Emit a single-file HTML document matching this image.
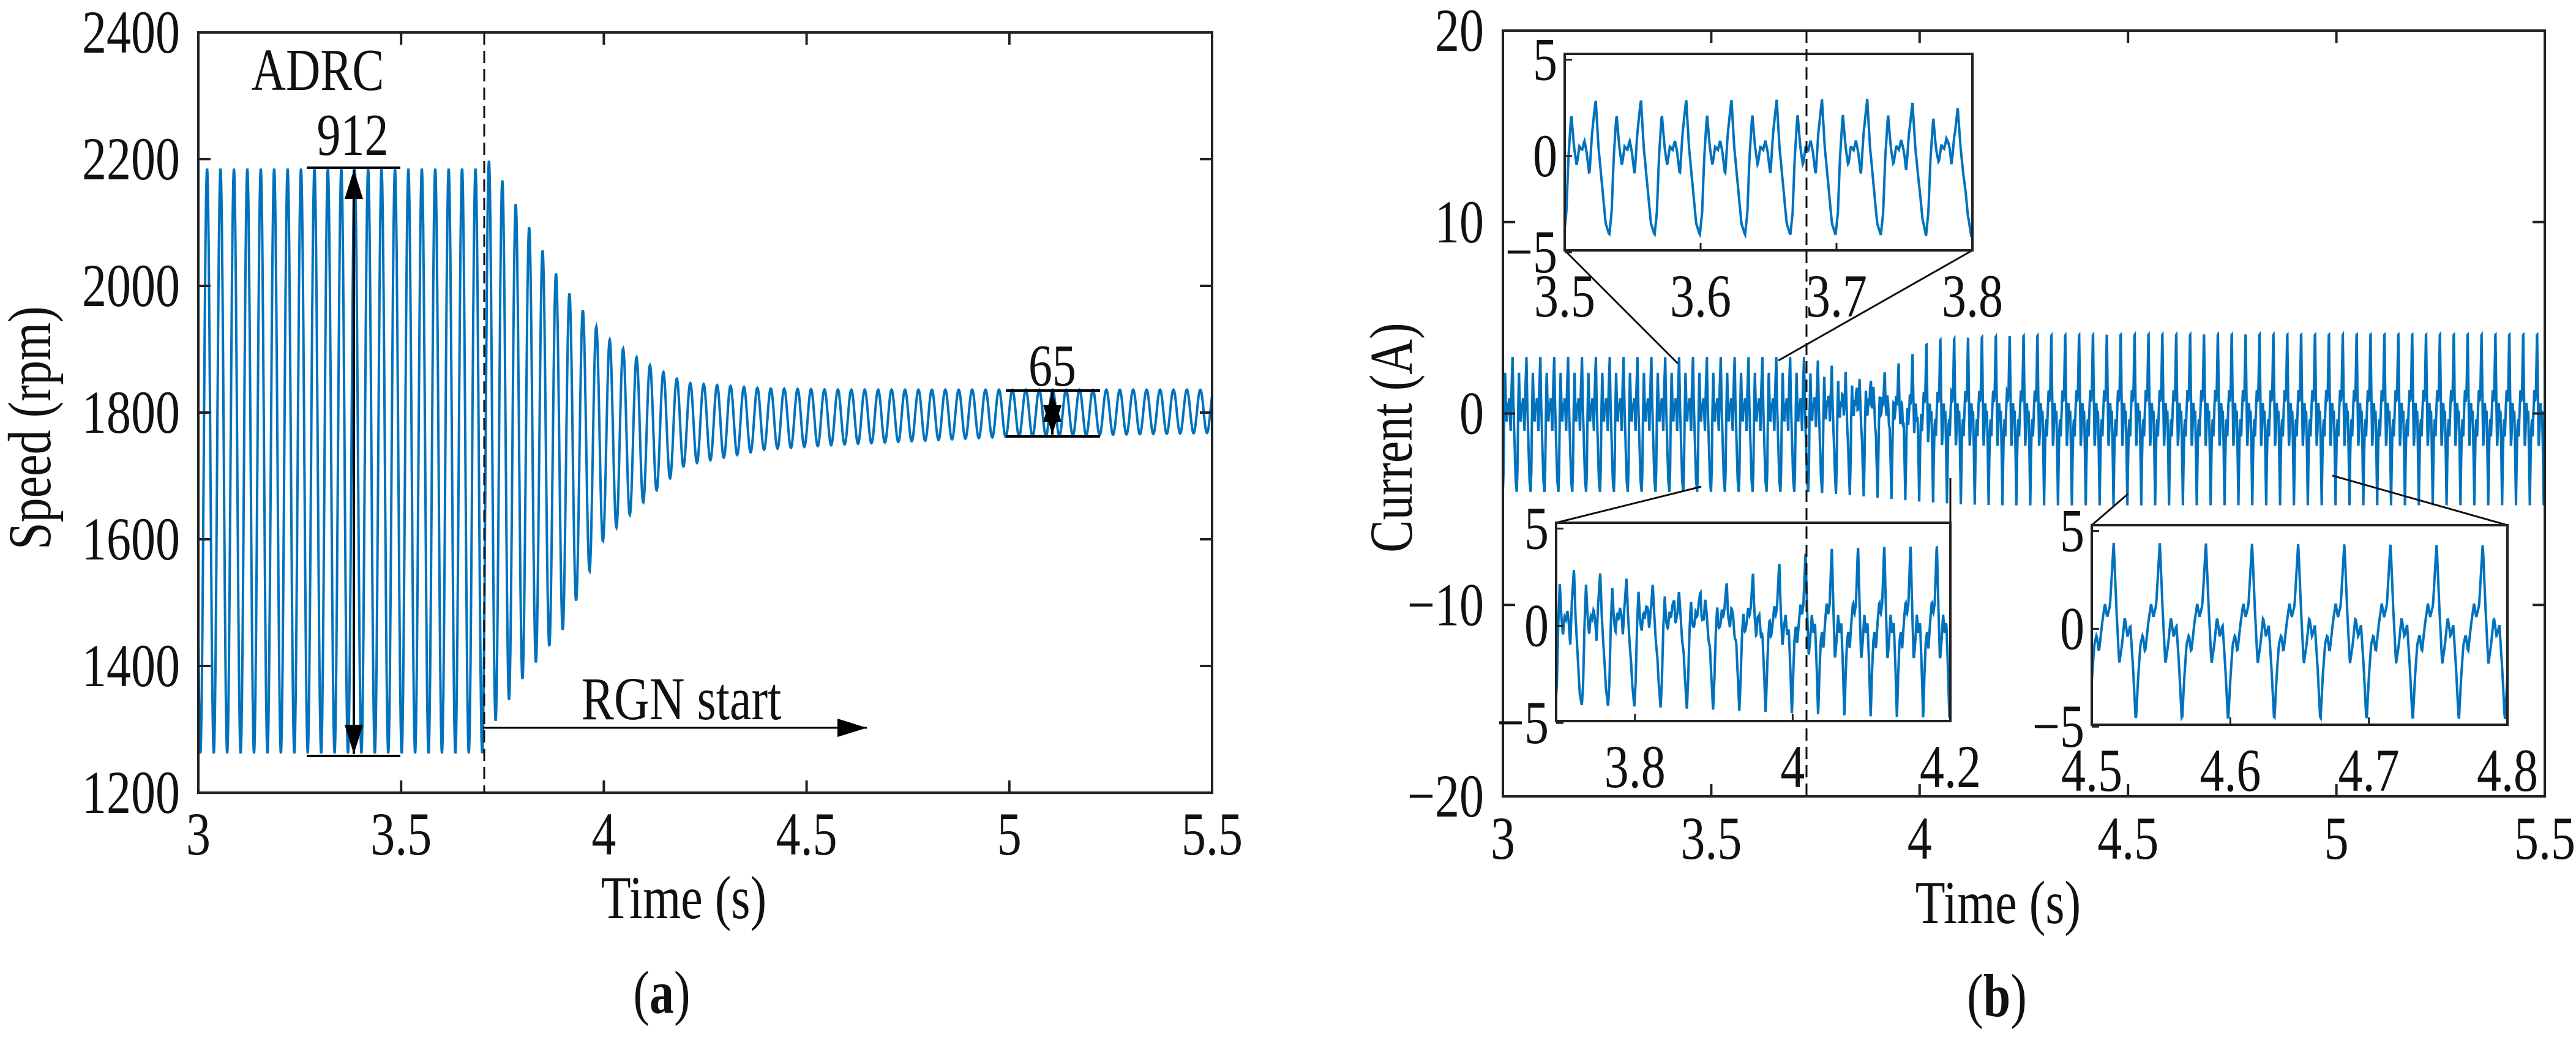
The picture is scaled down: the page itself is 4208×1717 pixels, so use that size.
<!DOCTYPE html>
<html><head><meta charset="utf-8">
<style>
html,body{margin:0;padding:0;background:#fff;}
svg{display:block;font-family:"Liberation Serif",serif;}
text{fill:#111;}
</style></head>
<body>
<svg id="fig" width="4208" height="1717" viewBox="0 0 4208 1717" xmlns="http://www.w3.org/2000/svg">
<defs>
<clipPath id="clipA"><rect x="324" y="53" width="1656" height="1242"/></clipPath>
<clipPath id="clipB"><rect x="2455" y="50" width="1702" height="1251"/></clipPath>
<clipPath id="clipI1"><rect x="2556" y="88" width="666" height="321"/></clipPath>
<clipPath id="clipI2"><rect x="2542" y="854" width="644" height="324"/></clipPath>
<clipPath id="clipI3"><rect x="3417" y="858" width="679" height="326"/></clipPath>
<marker id="arr" viewBox="0 0 16 10" refX="16" refY="5" markerWidth="48" markerHeight="30" markerUnits="userSpaceOnUse" orient="auto-start-reverse"><path d="M0,0 L16,5 L0,10 z" fill="#000"/></marker>
</defs>
<g id="panelA"></g>
<g id="panelB"></g>
</svg>
<script>
// ---- data: speed chart ----
const speedXTicks = [3, 3.5, 4, 4.5, 5, 5.5];
const speedXTickLabels = ["3", "3.5", "4", "4.5", "5", "5.5"];
const speedYTicks = [1200, 1400, 1600, 1800, 2000, 2200, 2400];
const speedYTickLabels = ["1200", "1400", "1600", "1800", "2000", "2200", "2400"];
const speedEnvTimes = [3.0, 3.70, 3.72, 3.8, 3.9, 4.0, 4.1, 4.2, 4.4, 4.6, 5.0, 5.5];
const speedUpper = [2185, 2185, 2200, 2110, 2000, 1921, 1879, 1847, 1838, 1836, 1836, 1836];
const speedLower = [1262, 1262, 1300, 1380, 1458, 1600, 1660, 1717, 1742, 1750, 1762, 1768];
const speedPeriod = [0.0331];
const rgnStart = [3.705];
// ---- data: current chart ----
const curXTicks = [3, 3.5, 4, 4.5, 5, 5.5];
const curXTickLabels = ["3", "3.5", "4", "4.5", "5", "5.5"];
const curYTicks = [-20, -10, 0, 10, 20];
const curYTickLabels = ["\u221220", "\u221210", "0", "10", "20"];
const curEnvTimes = [3.0, 3.73, 3.8, 3.9, 4.0, 4.1, 4.2, 4.3, 4.5, 5.0, 5.5];
const curUpper = [2.95, 2.95, 3.3, 3.7, 4.0, 4.2, 4.3, 4.35, 4.4, 4.4, 4.4];
const curLower = [-4.1, -4.1, -4.2, -4.4, -4.6, -4.75, -4.8, -4.8, -4.8, -4.8, -4.8];
const shapeBeforePhase = [0, 0.05, 0.1, 0.16, 0.22, 0.28, 0.34, 0.4, 0.45, 0.5, 0.56, 0.62, 0.7, 0.76, 0.84, 0.92, 1];
const shapeBeforeVal = [-4.1, -3, 0, 2.2, 0.5, -0.5, 0.5, 0.3, 0.8, 0.2, -1, 1.2, 2.95, 0.5, -1.5, -3.5, -4.1];
const shapeAfterPhase = [0, 0.05, 0.1, 0.15, 0.2, 0.27, 0.33, 0.38, 0.44, 0.52, 0.58, 0.64, 0.7, 0.76, 0.82, 0.88, 0.94, 1];
const shapeAfterVal = [-4.8, -2.5, -0.8, -0.3, -1.2, 0.3, 1.3, 0.6, 1.2, 4.4, 1.0, -1.8, -0.8, 0.6, -0.4, 0.2, -2, -4.8];
const curPeriod = [0.0333];
const inset1XTicks = [3.5, 3.6, 3.7, 3.8];
const inset2XTicks = [3.8, 4.0, 4.2];
const inset2XTickLabels = ["3.8", "4", "4.2"];
const inset3XTicks = [4.5, 4.6, 4.7, 4.8];
const insetYTicks = [-5, 0, 5];
const insetYTickLabels = ["\u22125", "0", "5"];

const NS = "http://www.w3.org/2000/svg";
const SY = 1.25;
function mk(parent, tag, attrs, txt){
  const e = document.createElementNS(NS, tag);
  for (const k in attrs) e.setAttribute(k, attrs[k]);
  if (txt !== undefined) e.textContent = txt;
  parent.appendChild(e);
  return e;
}
function tx(parent, x, y, size, anchor, str, rot){
  const tr = 'translate(' + x + ',' + y + ')' + (rot ? ' rotate(-90)' : '') + ' scale(1,' + SY + ')';
  return mk(parent, 'text', {x: 0, y: 0, 'font-size': size, 'text-anchor': anchor, transform: tr}, str);
}
function lerpArr(xs, ys, x){
  if (x <= xs[0]) return ys[0];
  for (let i = 1; i < xs.length; i++) {
    if (x <= xs[i]) { const f = (x - xs[i-1]) / (xs[i] - xs[i-1]); return ys[i-1] + f * (ys[i] - ys[i-1]); }
  }
  return ys[ys.length-1];
}
function lin(d0, d1, r0, r1){ return v => r0 + (v - d0) / (d1 - d0) * (r1 - r0); }

const A = document.getElementById('panelA');
const B = document.getElementById('panelB');

// ===== Panel A =====
const ax = lin(3, 5.5, 324, 1980), ay = lin(1200, 2400, 1295, 53);
function speedAt(t){
  const up = lerpArr(speedEnvTimes, speedUpper, t), lo = lerpArr(speedEnvTimes, speedLower, t);
  const mid = (up + lo) / 2, half = (up - lo) / 2;
  return mid + half * Math.cos(2 * Math.PI * (t - 3.0) / speedPeriod[0] + 2.2);
}
{
  let d = "";
  const n = Math.round(2.5 / speedPeriod[0] * 40);
  for (let i = 0; i <= n; i++) { const t = 3 + 2.5 * i / n; d += (i ? "L" : "M") + ax(t).toFixed(1) + "," + ay(speedAt(t)).toFixed(1); }
  const p = mk(A, 'path', {d: d, fill: 'none', stroke: '#0072BD', 'stroke-width': 4, 'clip-path': 'url(#clipA)'});
  
  
}
{
  const r = mk(A, 'rect', {x: 324, y: 53, width: 1656, height: 1242, fill: 'none', stroke: '#222', 'stroke-width': 4});
  
  
  speedXTicks.forEach((v, i) => {
    const x = ax(v);
    mk(A, 'line', {x1: x, y1: 1295, x2: x, y2: 1275, stroke: '#222', 'stroke-width': 4});
    mk(A, 'line', {x1: x, y1: 53, x2: x, y2: 73, stroke: '#222', 'stroke-width': 4});
    const t = tx(A, x, 1396, 80, 'middle', speedXTickLabels[i]);
    
    
  });
  speedYTicks.forEach((v, i) => {
    const y = ay(v);
    mk(A, 'line', {x1: 324, y1: y, x2: 344, y2: y, stroke: '#222', 'stroke-width': 4});
    mk(A, 'line', {x1: 1980, y1: y, x2: 1960, y2: y, stroke: '#222', 'stroke-width': 4});
    const t = tx(A, 294, y + 33, 80, 'end', speedYTickLabels[i]);
    
    
  });
  const xl = tx(A, 1117, 1500, 80, 'middle', 'Time (s)');
  
  
  const yl = tx(A, 82, 699, 80, 'middle', 'Speed (rpm)', true);
  
  
  const cap = tx(A, 1081, 1655, 80, 'middle');
  
  
  mk(cap, 'tspan', {}, '(');
  mk(cap, 'tspan', {'font-weight': 'bold'}, 'a');
  mk(cap, 'tspan', {}, ')');
  const dl = mk(A, 'line', {x1: ax(rgnStart[0]), y1: 53, x2: ax(rgnStart[0]), y2: 1295, stroke: '#111', 'stroke-width': 3, 'stroke-dasharray': '20,10'});
  
  
  const t1 = tx(A, 519, 147, 78, 'middle', 'ADRC');
  
  
  const t2 = tx(A, 576, 253, 78, 'middle', '912');
  
  
  mk(A, 'line', {x1: 501, y1: 274, x2: 654, y2: 274, stroke: '#000', 'stroke-width': 4});
  mk(A, 'line', {x1: 501, y1: 1235, x2: 654, y2: 1235, stroke: '#000', 'stroke-width': 4});
  const a1 = mk(A, 'line', {x1: 578, y1: 277, x2: 578, y2: 1232, stroke: '#000', 'stroke-width': 4, 'marker-start': 'url(#arr)', 'marker-end': 'url(#arr)'});
  
  
  const t3 = tx(A, 1719, 630, 78, 'middle', '65');
  
  
  mk(A, 'line', {x1: 1643, y1: 638, x2: 1797, y2: 638, stroke: '#000', 'stroke-width': 4});
  mk(A, 'line', {x1: 1643, y1: 713, x2: 1797, y2: 713, stroke: '#000', 'stroke-width': 4});
  const a2 = mk(A, 'line', {x1: 1719, y1: 641, x2: 1719, y2: 710, stroke: '#000', 'stroke-width': 4, 'marker-start': 'url(#arr)', 'marker-end': 'url(#arr)'});
  
  
  const t4 = tx(A, 1113, 1175, 80, 'middle', 'RGN start');
  
  
  const a3 = mk(A, 'line', {x1: 789, y1: 1189, x2: 1416, y2: 1189, stroke: '#000', 'stroke-width': 3, 'marker-end': 'url(#arr)'});
  
  
}

// ===== Panel B =====
function shapeAt(ph, ps, vs){ return lerpArr(ps, vs, ph); }
function currentAt(t){
  const T = curPeriod[0];
  let ph = ((t - 3.0) / T) % 1; if (ph < 0) ph += 1;
  const sb = shapeAt(ph, shapeBeforePhase, shapeBeforeVal);
  const sa = shapeAt(ph, shapeAfterPhase, shapeAfterVal);
  let w = (t - 3.73) / 0.3; w = Math.max(0, Math.min(1, w));
  const nb = sb >= 0 ? sb / 2.95 : sb / 4.1;
  const na = sa >= 0 ? sa / 4.4 : sa / 4.8;
  const n = nb * (1 - w) + na * w;
  const up = lerpArr(curEnvTimes, curUpper, t), lo = lerpArr(curEnvTimes, curLower, t);
  return n >= 0 ? n * up : -n * lo;
}
function drawCurrent(parent, t0, t1, xf, yf, clip, name, perCycle){
  let d = "";
  const n = Math.round((t1 - t0) / curPeriod[0] * perCycle);
  for (let i = 0; i <= n; i++) { const t = t0 + (t1 - t0) * i / n; d += (i ? "L" : "M") + xf(t).toFixed(1) + "," + yf(currentAt(t)).toFixed(1); }
  const p = mk(parent, 'path', {d: d, fill: 'none', stroke: '#0072BD', 'stroke-width': 4, 'clip-path': clip});
  
  
}
const bx = lin(3, 5.5, 2455, 4157), by = lin(-20, 20, 1301, 50);
drawCurrent(B, 3, 5.5, bx, by, 'url(#clipB)', 'current-line', 80);
{
  const r = mk(B, 'rect', {x: 2455, y: 50, width: 1702, height: 1251, fill: 'none', stroke: '#222', 'stroke-width': 4});
  
  
  curXTicks.forEach((v, i) => {
    const x = bx(v);
    mk(B, 'line', {x1: x, y1: 1301, x2: x, y2: 1281, stroke: '#222', 'stroke-width': 4});
    mk(B, 'line', {x1: x, y1: 50, x2: x, y2: 70, stroke: '#222', 'stroke-width': 4});
    const t = tx(B, x, 1403, 80, 'middle', curXTickLabels[i]);
    
    
  });
  curYTicks.forEach((v, i) => {
    const y = by(v);
    mk(B, 'line', {x1: 2455, y1: y, x2: 2475, y2: y, stroke: '#222', 'stroke-width': 4});
    mk(B, 'line', {x1: 4157, y1: y, x2: 4137, y2: y, stroke: '#222', 'stroke-width': 4});
    const t = tx(B, 2424, y + 33, 80, 'end', curYTickLabels[i]);
    
    
  });
  const xl = tx(B, 3264, 1508, 80, 'middle', 'Time (s)');
  
  
  const yl = tx(B, 2306, 715, 80, 'middle', 'Current (A)', true);
  
  
  const cap = tx(B, 3262, 1660, 80, 'middle');
  
  
  mk(cap, 'tspan', {}, '(');
  mk(cap, 'tspan', {'font-weight': 'bold'}, 'b');
  mk(cap, 'tspan', {}, ')');
  [[2556,409,2741,594],[3222,409,2905,589],[2542,854,2779,795],[3186,781,3186,854],[3417,858,3476,807],[4096,858,3810,777]].forEach(c => {
    const l = mk(B, 'line', {x1: c[0], y1: c[1], x2: c[2], y2: c[3], stroke: '#111', 'stroke-width': 3});
    
    
  });
}
function drawInset(name, x0, y0, w, h, t0, t1, xticks, xlabels, clip){
  const g = mk(B, 'g', {});
  
  
  mk(g, 'rect', {x: x0, y: y0, width: w, height: h, fill: '#fff'});
  const xf = lin(t0, t1, x0, x0 + w), yf = lin(-4.9, 5.3, y0 + h, y0);
  drawCurrent(g, t0, t1, xf, yf, clip, name + '-line', 80);
  mk(g, 'rect', {x: x0, y: y0, width: w, height: h, fill: 'none', stroke: '#222', 'stroke-width': 4});
  xticks.forEach((v, i) => {
    const x = xf(v);
    mk(g, 'line', {x1: x, y1: y0 + h, x2: x, y2: y0 + h - 12, stroke: '#222', 'stroke-width': 3});
    const t = tx(g, x, y0 + h + 108, 80, 'middle', xlabels[i]);
    
    
  });
  insetYTicks.forEach((v, i) => {
    const y = yf(v);
    mk(g, 'line', {x1: x0, y1: y, x2: x0 + 12, y2: y, stroke: '#222', 'stroke-width': 3});
    const t = tx(g, x0 - 12, y + 33, 80, 'end', insetYTickLabels[i]);
    
    
  });
}
drawInset('inset-3-5-to-3-8', 2556, 88, 666, 321, 3.5, 3.8, inset1XTicks, ["3.5","3.6","3.7","3.8"], 'url(#clipI1)');
drawInset('inset-3-7-to-4-2', 2542, 854, 644, 324, 3.7, 4.2, inset2XTicks, inset2XTickLabels, 'url(#clipI2)');
drawInset('inset-4-5-to-4-8', 3417, 858, 679, 326, 4.5, 4.8, inset3XTicks, ["4.5","4.6","4.7","4.8"], 'url(#clipI3)');
{
  const dl = mk(B, 'line', {x1: 2951, y1: 50, x2: 2951, y2: 1301, stroke: '#111', 'stroke-width': 3, 'stroke-dasharray': '20,10'});
  
  
}
</script>
</body></html>
